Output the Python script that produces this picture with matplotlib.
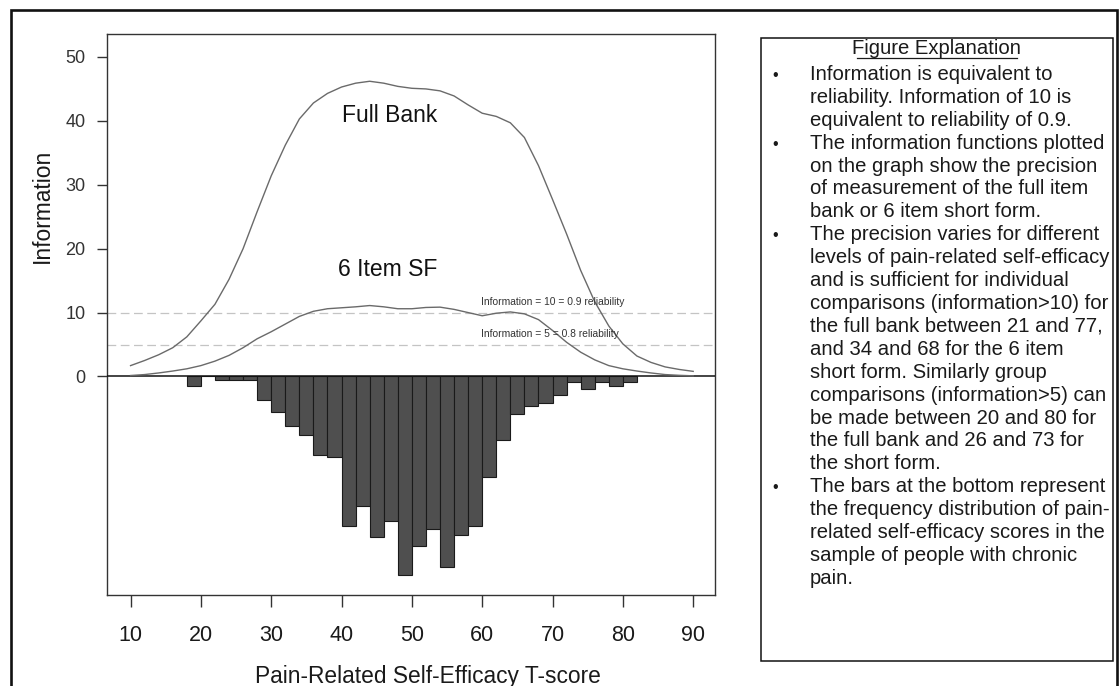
import matplotlib
matplotlib.use("Agg")
import matplotlib.pyplot as plt
from matplotlib.patches import Rectangle
from matplotlib.lines import Line2D

plt.rcParams["font.family"] = ["Liberation Sans", "DejaVu Sans"]

# ---- data -------------------------------------------------------------
t_score = [10, 12, 14, 16, 18, 20, 22, 24, 26, 28, 30, 32, 34, 36, 38, 40,
           42, 44, 46, 48, 50, 52, 54, 56, 58, 60, 62, 64, 66, 68, 70, 72,
           74, 76, 78, 80, 82, 84, 86, 88, 90]

info_full_bank = [1.7, 2.5, 3.4, 4.5, 6.2, 8.7, 11.3, 15.2, 20.0, 25.8, 31.4,
                  36.2, 40.3, 42.8, 44.3, 45.3, 45.9, 46.2, 45.9, 45.4, 45.1,
                  45.0, 44.7, 43.9, 42.5, 41.2, 40.7, 39.7, 37.4, 33.0, 27.7,
                  22.3, 16.6, 11.7, 7.9, 5.1, 3.2, 2.2, 1.5, 1.1, 0.8]

info_short_form = [0.15, 0.3, 0.55, 0.85, 1.2, 1.7, 2.4, 3.3, 4.5, 5.9, 7.0,
                   8.2, 9.4, 10.2, 10.6, 10.75, 10.9, 11.1, 10.9, 10.6, 10.6,
                   10.8, 10.85, 10.5, 10.0, 9.5, 9.9, 10.1, 9.8, 8.9, 7.2,
                   5.35, 3.8, 2.6, 1.7, 1.2, 0.85, 0.55, 0.3, 0.18, 0.1]

# sample frequency distribution (bins of width 2, drawn below zero)
bin_left = [18, 20, 22, 24, 26, 28, 30, 32, 34, 36, 38, 40, 42, 44, 46, 48,
            50, 52, 54, 56, 58, 60, 62, 64, 66, 68, 70, 72, 74, 76, 78, 80]
bin_freq = [1.45, 0.0, 0.6, 0.6, 0.6, 3.75, 5.6, 7.8, 9.1, 12.3, 12.6, 23.4,
            20.3, 25.1, 22.6, 31.0, 26.6, 23.9, 29.8, 24.8, 23.4, 15.8, 10.0,
            5.8, 4.6, 4.1, 2.9, 0.9, 2.0, 0.9, 1.5, 0.9]
bin_width = 2

x_ticks = [10, 20, 30, 40, 50, 60, 70, 80, 90]
y_ticks = [0, 10, 20, 30, 40, 50]

reliability_levels = [10, 5]
reliability_labels = ["Information = 10 = 0.9 reliability",
                      "Information = 5 = 0.8 reliability"]

explanation_title = "Figure Explanation"
explanation_lines = [
    ("\u2022", "Information is equivalent to"),
    ("", "reliability. Information of 10 is"),
    ("", "equivalent to reliability of 0.9."),
    ("\u2022", "The information functions plotted"),
    ("", "on the graph show the precision"),
    ("", "of measurement of the full item"),
    ("", "bank or 6 item short form."),
    ("\u2022", "The precision varies for different"),
    ("", "levels of pain-related self-efficacy"),
    ("", "and is sufficient for individual"),
    ("", "comparisons (information>10) for"),
    ("", "the full bank between 21 and 77,"),
    ("", "and 34 and 68 for the 6 item"),
    ("", "short form. Similarly group"),
    ("", "comparisons (information>5) can"),
    ("", "be made between 20 and 80 for"),
    ("", "the full bank and 26 and 73 for"),
    ("", "the short form."),
    ("\u2022", "The bars at the bottom represent"),
    ("", "the frequency distribution of pain-"),
    ("", "related self-efficacy scores in the"),
    ("", "sample of people with chronic"),
    ("", "pain."),
]

# ---- figure -----------------------------------------------------------
W, H = 1120, 686
fig = plt.figure(figsize=(W / 100, H / 100), dpi=100)
fig.patch.set_facecolor("white")


def fx(px):
    return px / W


def fy(py):
    return 1 - py / H


# outer frame
fig.add_artist(Rectangle((fx(11), fy(700)), fx(1117) - fx(11), fy(10) - fy(700),
                         transform=fig.transFigure, fill=False,
                         edgecolor="#111111", linewidth=1.9))

ax = fig.add_axes([fx(107), fy(595), fx(715) - fx(107), fy(34.3) - fy(595)])
ax.set_xlim(6.65, 93.1)
ax.set_ylim(-34.2, 53.55)

frame_col = "#333333"
for s in ax.spines.values():
    s.set_color(frame_col)
    s.set_linewidth(1.0)

# reference lines
for lvl in reliability_levels:
    ax.axhline(lvl, color="#c4c4c4", linewidth=0.9, dashes=(7, 3.6), zorder=1)

# frequency bars hanging below zero
ax.bar(bin_left, [-f for f in bin_freq], width=bin_width, align="edge",
       color="#4f4f4f", edgecolor="#1a1a1a", linewidth=0.8, zorder=2)

ax.axhline(0, color="#111111", linewidth=1.1, zorder=3)

# information curves
ax.plot(t_score, info_full_bank, color="#6a6a6a", linewidth=1.0, zorder=4)
ax.plot(t_score, info_short_form, color="#6a6a6a", linewidth=1.0, zorder=4)

ax.text(46.9, 40.9, "Full Bank", fontsize=16.5, ha="center", va="center",
        color="#111111")
ax.text(46.6, 16.7, "6 Item SF", fontsize=16.5, ha="center", va="center",
        color="#111111")
ax.text(59.8, 11.6, reliability_labels[0], fontsize=7.4, ha="left",
        va="center", color="#333333", zorder=5)
ax.text(59.8, 6.65, reliability_labels[1], fontsize=7.4, ha="left",
        va="center", color="#333333", zorder=5)

ax.set_xticks(x_ticks)
ax.set_yticks(y_ticks)
ax.tick_params(axis="x", length=8.6, width=1.0, color=frame_col, pad=13,
               labelsize=15.5, labelcolor="#1a1a1a")
ax.tick_params(axis="y", length=7.2, width=1.0, color=frame_col, pad=8.4,
               labelsize=13, labelcolor="#333333")

fig.text(fx(427.5), fy(683), "Pain-Related Self-Efficacy T-score",
         fontsize=16.4, ha="center", va="baseline", color="#1a1a1a")
fig.text(fx(42), fy(206), "Information", fontsize=16.4, rotation=90,
         ha="center", va="center", color="#1a1a1a")

# explanation box
fig.add_artist(Rectangle((fx(761), fy(661)), fx(1113) - fx(761), fy(38) - fy(661),
                         transform=fig.transFigure, fill=False,
                         edgecolor="#111111", linewidth=1.1))
body_size = 14.6
fig.text(fx(937), fy(54), explanation_title, fontsize=body_size,
         ha="center", va="baseline", color="#1a1a1a")
fig.add_artist(Line2D([fx(857), fx(1017)], [fy(57.5), fy(57.5)],
                      transform=fig.transFigure, color="#1a1a1a", linewidth=0.9))

line_gap = 22.9
for i, (bullet, text) in enumerate(explanation_lines):
    y = 80 + i * line_gap
    if bullet:
        fig.text(fx(775), fy(y), bullet, fontsize=body_size * 0.8,
                 ha="center", va="baseline", color="#1a1a1a")
    fig.text(fx(810), fy(y), text, fontsize=body_size, ha="left",
             va="baseline", color="#1a1a1a")

fig.savefig("out.png", dpi=100, facecolor="white")
